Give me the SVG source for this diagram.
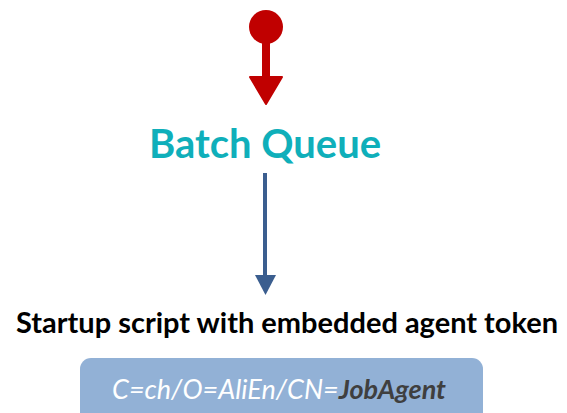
<svg xmlns="http://www.w3.org/2000/svg" width="567" height="413" viewBox="0 0 567 413">
<style>
.t{font-family:Lato,"Open Sans","Liberation Sans",sans-serif;}
</style>
<rect width="567" height="413" fill="#ffffff"/>
<g id="start">
<circle cx="266" cy="27" r="17" fill="#C00000"/>
</g>
<g id="connectors">
<rect x="262" y="38" width="8" height="40" fill="#C00000"/>
<polygon points="250,77 282,77 266,104" fill="#C00000" stroke="#C00000" stroke-width="2" stroke-linejoin="round"/>
<line x1="265" y1="173" x2="265" y2="278" stroke="#3B5E8F" stroke-width="4"/>
<polygon points="255,275 276,275 265.5,295" fill="#3B5E8F"/>
</g>
<g id="batch-queue">
<text class="t" x="265" y="158" text-anchor="middle" font-size="40" font-weight="bold" fill="#0FAFBA">Batch Queue</text>
</g>
<g id="startup-script">
<text class="t" x="287" y="333" text-anchor="middle" font-size="29" font-weight="bold" fill="#000000" textLength="542" lengthAdjust="spacingAndGlyphs">Startup script with embedded agent token</text>
<rect x="80" y="358" width="403" height="70" rx="11" fill="#92B1D6"/>
<text class="t" x="279" y="399" text-anchor="middle" font-size="27" font-style="italic" fill="#ffffff">C=ch/O=AliEn/CN=<tspan font-weight="bold" fill="#3F3F3F">JobAgent</tspan></text>
</g>
</svg>
